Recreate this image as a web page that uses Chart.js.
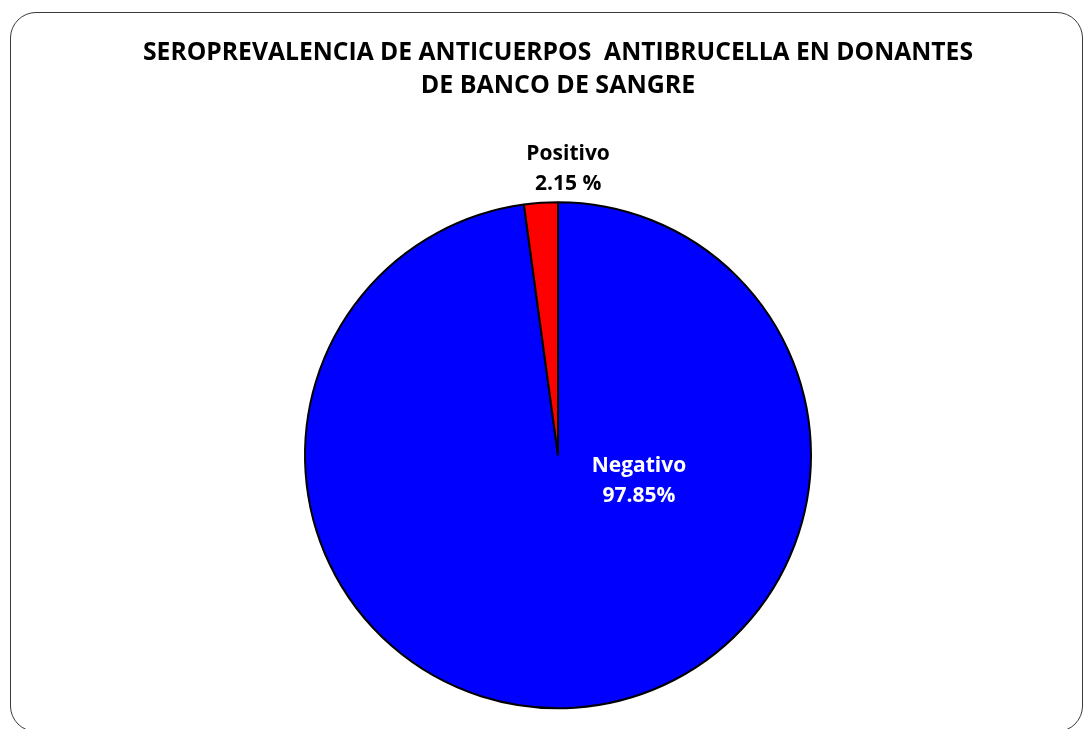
<!DOCTYPE html>
<html>
<head>
<meta charset="utf-8">
<script src="https://cdn.jsdelivr.net/npm/chart.js@4.4.1/dist/chart.umd.min.js"></script>
<style>
    html, body { margin: 0; padding: 0; background: #fff; overflow: hidden; }
    #wrap { position: relative; width: 1085px; height: 729px; }
    #frame {
        position: absolute; left: 10px; top: 12px; width: 1073px; height: 720px;
        border: 1.5px solid #3a3a3a; border-radius: 26px; box-sizing: border-box;
        pointer-events: none;
    }
</style>
</head>
<body>
<div id="wrap">
    <canvas id="pieChart" width="1085" height="729"></canvas>
    <div id="frame"></div>
</div>
<script>
const categories = ["Negativo", "Positivo"]
const percentages = [97.85, 2.15]
const valueTexts = ["97.85%", "2.15 %"]
const titleLines = ["SEROPREVALENCIA DE ANTICUERPOS  ANTIBRUCELLA EN DONANTES", "DE BANCO DE SANGRE"]

const FONT = "'Open Sans', sans-serif"

// labels are placed relative to the pie centre, in units of the radius
const sliceLabels = {
    id: "sliceLabels",
    afterDatasetsDraw(chart, args, opts) {
        const ctx = chart.ctx
        const arcs = chart.getDatasetMeta(0).data
        ctx.save()
        ctx.textAlign = "center"
        ctx.textBaseline = "middle"
        ctx.font = "bold " + opts.size + "px " + FONT
        arcs.forEach((arc, i) => {
            const p = arc.getProps(["x", "y", "outerRadius"], true)
            const [dx, dy] = opts.offsets[i]
            const x = p.x + dx * p.outerRadius
            const y = p.y + dy * p.outerRadius
            ctx.fillStyle = opts.colors[i]
            ctx.fillText(categories[i], x, y - opts.gap / 2)
            ctx.fillText(valueTexts[i], x, y + opts.gap / 2)
        })
        ctx.restore()
    }
}

new Chart(document.getElementById("pieChart"), {
    type: "pie",
    data: {
        labels: categories,
        datasets: [{
            data: percentages,
            backgroundColor: ["#0000ff", "#ff0000"],
            borderColor: "#000000",
            borderWidth: 2
        }]
    },
    options: {
        responsive: false,
        animation: false,
        radius: 253,
        // side padding also limits the title width (narrow like the original font)
        layout: { padding: { left: 143, right: 112, top: 0, bottom: 0 } },
        plugins: {
            legend: { display: false },
            tooltip: { enabled: false },
            title: {
                display: true,
                text: titleLines,
                color: "#000",
                font: { family: FONT, size: 25, weight: "bold", lineHeight: 1.33 },
                padding: { top: 36, bottom: 79 }
            },
            sliceLabels: {
                size: 21,
                gap: 30,
                offsets: [[0.32, 0.1], [0.04, -1.13]],
                colors: ["#ffffff", "#000000"]
            }
        }
    },
    plugins: [sliceLabels]
})
</script>
</body>
</html>
